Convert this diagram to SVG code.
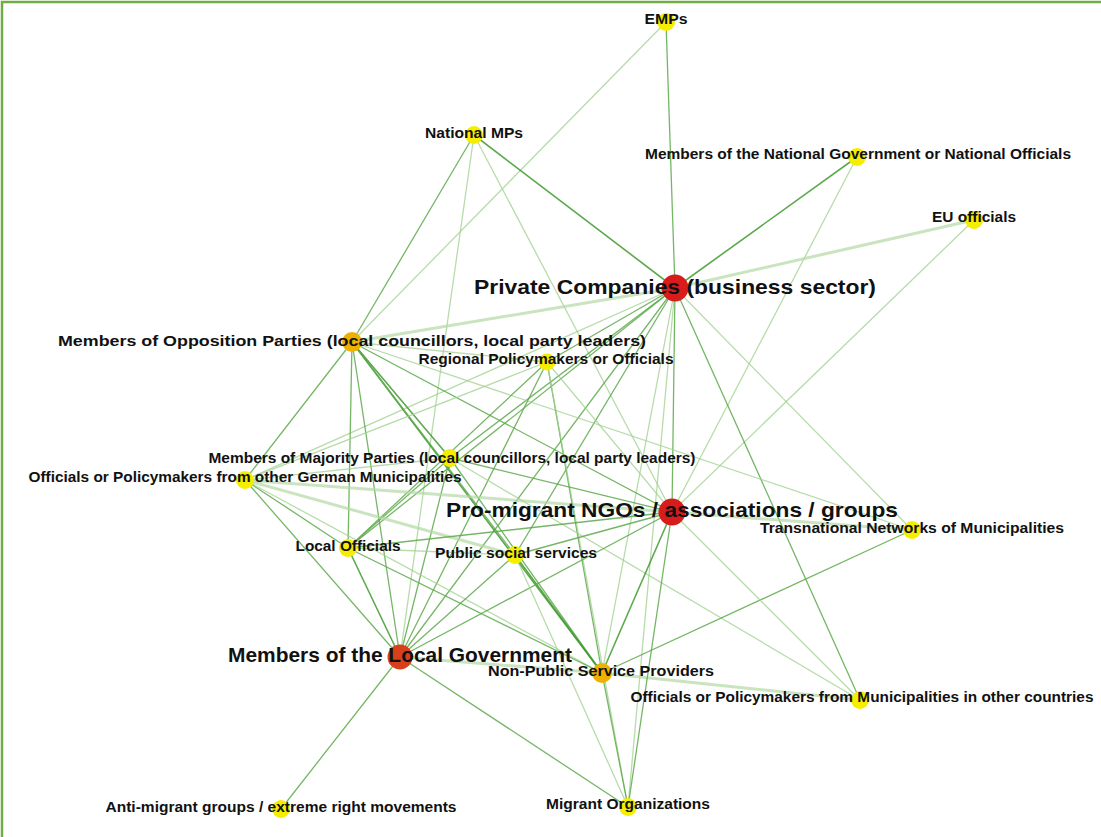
<svg xmlns="http://www.w3.org/2000/svg" width="1101" height="837" viewBox="0 0 1101 837">
<style>
.bg{fill:#ffffff}
.frame{stroke:#70ad47;stroke-width:2.5;fill:none}
.e{fill:none;stroke-linecap:round}
.d{stroke:#3f9a2e;stroke-width:1.6;stroke-opacity:0.85}
.m{stroke:#5da94b;stroke-width:1.3;stroke-opacity:0.85}
.l{stroke:#9fd08e;stroke-width:1.3;stroke-opacity:0.75}
.t{stroke:#b2d9a3;stroke-width:3;stroke-opacity:0.7}
.y{fill:#f5ee00}
.o{fill:#efb100}
.r{fill:#d81c1c}
.lg{fill:#d8401c}
text{font-family:"Liberation Sans",Arial,sans-serif;font-weight:bold;fill:#111;text-anchor:middle;dominant-baseline:central}
.s{font-size:14px}
.b{font-size:20.5px}
.bm{font-size:15.5px}
</style>
<rect class="bg" x="0" y="0" width="1101" height="837"/>
<path class="frame" d="M2,837 V2 H1101"/>
<g id="connectors">
<line class="e m" x1="666" y1="22" x2="675" y2="288"/>
<line class="e l" x1="666" y1="22" x2="352" y2="342"/>
<line class="e d" x1="474" y1="135" x2="675" y2="288"/>
<line class="e m" x1="474" y1="135" x2="352" y2="342"/>
<line class="e l" x1="474" y1="135" x2="400" y2="657"/>
<line class="e l" x1="474" y1="135" x2="672" y2="512"/>
<line class="e d" x1="857" y1="157" x2="675" y2="288"/>
<line class="e l" x1="857" y1="157" x2="672" y2="512"/>
<line class="e t" x1="974" y1="220" x2="675" y2="288"/>
<line class="e l" x1="974" y1="220" x2="672" y2="512"/>
<line class="e t" x1="675" y1="288" x2="352" y2="342"/>
<line class="e m" x1="675" y1="288" x2="547" y2="362"/>
<line class="e m" x1="675" y1="288" x2="450" y2="458"/>
<line class="e l" x1="675" y1="288" x2="245" y2="480"/>
<line class="e m" x1="675" y1="288" x2="348" y2="548"/>
<line class="e m" x1="675" y1="288" x2="515" y2="555"/>
<line class="e m" x1="675" y1="288" x2="400" y2="657"/>
<line class="e m" x1="675" y1="288" x2="672" y2="512"/>
<line class="e l" x1="675" y1="288" x2="602" y2="673"/>
<line class="e l" x1="675" y1="288" x2="628" y2="807"/>
<line class="e l" x1="675" y1="288" x2="912" y2="530"/>
<line class="e m" x1="675" y1="288" x2="860" y2="700"/>
<line class="e l" x1="352" y1="342" x2="547" y2="362"/>
<line class="e d" x1="352" y1="342" x2="450" y2="458"/>
<line class="e d" x1="352" y1="342" x2="602" y2="673"/>
<line class="e m" x1="352" y1="342" x2="515" y2="555"/>
<line class="e m" x1="352" y1="342" x2="245" y2="480"/>
<line class="e m" x1="352" y1="342" x2="348" y2="548"/>
<line class="e m" x1="352" y1="342" x2="400" y2="657"/>
<line class="e m" x1="352" y1="342" x2="672" y2="512"/>
<line class="e l" x1="352" y1="342" x2="912" y2="530"/>
<line class="e l" x1="547" y1="362" x2="245" y2="480"/>
<line class="e m" x1="547" y1="362" x2="348" y2="548"/>
<line class="e m" x1="547" y1="362" x2="400" y2="657"/>
<line class="e m" x1="547" y1="362" x2="602" y2="673"/>
<line class="e l" x1="547" y1="362" x2="672" y2="512"/>
<line class="e l" x1="547" y1="362" x2="628" y2="807"/>
<line class="e m" x1="450" y1="458" x2="672" y2="512"/>
<line class="e m" x1="450" y1="458" x2="348" y2="548"/>
<line class="e m" x1="450" y1="458" x2="400" y2="657"/>
<line class="e m" x1="450" y1="458" x2="602" y2="673"/>
<line class="e l" x1="450" y1="458" x2="245" y2="480"/>
<line class="e l" x1="450" y1="458" x2="860" y2="700"/>
<line class="e t" x1="245" y1="480" x2="672" y2="512"/>
<line class="e m" x1="245" y1="480" x2="348" y2="548"/>
<line class="e m" x1="245" y1="480" x2="400" y2="657"/>
<line class="e l" x1="245" y1="480" x2="602" y2="673"/>
<line class="e t" x1="245" y1="480" x2="515" y2="555"/>
<line class="e m" x1="348" y1="548" x2="672" y2="512"/>
<line class="e l" x1="348" y1="548" x2="515" y2="555"/>
<line class="e d" x1="348" y1="548" x2="400" y2="657"/>
<line class="e m" x1="348" y1="548" x2="602" y2="673"/>
<line class="e m" x1="515" y1="555" x2="672" y2="512"/>
<line class="e m" x1="515" y1="555" x2="400" y2="657"/>
<line class="e d" x1="515" y1="555" x2="602" y2="673"/>
<line class="e m" x1="400" y1="657" x2="672" y2="512"/>
<line class="e t" x1="400" y1="657" x2="602" y2="673"/>
<line class="e m" x1="400" y1="657" x2="281" y2="809"/>
<line class="e m" x1="400" y1="657" x2="628" y2="807"/>
<line class="e d" x1="602" y1="673" x2="672" y2="512"/>
<line class="e m" x1="602" y1="673" x2="912" y2="530"/>
<line class="e t" x1="602" y1="673" x2="860" y2="700"/>
<line class="e m" x1="602" y1="673" x2="628" y2="807"/>
<line class="e m" x1="672" y1="512" x2="628" y2="807"/>
<line class="e l" x1="672" y1="512" x2="860" y2="700"/>
<line class="e t" x1="672" y1="512" x2="912" y2="530"/>
<line class="e l" x1="515" y1="555" x2="628" y2="807"/>
</g>
<g id="n-emps"><circle class="y" cx="666" cy="22" r="9"/><text class="s" x="666" y="19" textLength="43" lengthAdjust="spacingAndGlyphs">EMPs</text></g>
<g id="n-national-mps"><circle class="y" cx="474" cy="135" r="9"/><text class="s" x="474" y="133" textLength="98" lengthAdjust="spacingAndGlyphs">National MPs</text></g>
<g id="n-national-gov"><circle class="y" cx="857" cy="157" r="9"/><text class="s" x="858" y="154" textLength="426" lengthAdjust="spacingAndGlyphs">Members of the National Government or National Officials</text></g>
<g id="n-eu"><circle class="y" cx="974" cy="220" r="9"/><text class="s" x="974" y="217" textLength="84" lengthAdjust="spacingAndGlyphs">EU officials</text></g>
<g id="n-private"><circle class="r" cx="675" cy="288" r="13.5"/><text class="b" x="675" y="286" textLength="402" lengthAdjust="spacingAndGlyphs">Private Companies (business sector)</text></g>
<g id="n-opposition"><circle class="o" cx="352" cy="342" r="10"/><text class="bm" x="352" y="340" textLength="588" lengthAdjust="spacingAndGlyphs">Members of Opposition Parties (local councillors, local party leaders)</text></g>
<g id="n-regional"><circle class="y" cx="547" cy="362" r="8.5"/><text class="s" x="546" y="359" textLength="255" lengthAdjust="spacingAndGlyphs">Regional Policymakers or Officials</text></g>
<g id="n-majority"><circle class="y" cx="450" cy="458" r="9"/><text class="s" x="452" y="458" textLength="487" lengthAdjust="spacingAndGlyphs">Members of Majority Parties (local councillors, local party leaders)</text></g>
<g id="n-german-muni"><circle class="y" cx="245" cy="480" r="9"/><text class="s" x="245" y="477" textLength="433" lengthAdjust="spacingAndGlyphs">Officials or Policymakers from other German Municipalities</text></g>
<g id="n-ngos"><circle class="r" cx="672" cy="512" r="13.5"/><text class="b" x="672" y="509" textLength="452" lengthAdjust="spacingAndGlyphs">Pro-migrant NGOs / associations / groups</text></g>
<g id="n-transnational"><circle class="y" cx="912" cy="530" r="9"/><text class="s" x="912" y="528" textLength="304" lengthAdjust="spacingAndGlyphs">Transnational Networks of Municipalities</text></g>
<g id="n-local-officials"><circle class="y" cx="348" cy="548" r="9"/><text class="s" x="348" y="546" textLength="105" lengthAdjust="spacingAndGlyphs">Local Officials</text></g>
<g id="n-public-social"><circle class="y" cx="515" cy="555" r="9"/><text class="s" x="516" y="553" textLength="162" lengthAdjust="spacingAndGlyphs">Public social services</text></g>
<g id="n-local-gov"><circle class="lg" cx="400" cy="657" r="12.5"/><text class="b" x="400" y="654" textLength="344" lengthAdjust="spacingAndGlyphs">Members of the Local Government</text></g>
<g id="n-nonpublic"><circle class="o" cx="602" cy="673" r="10"/><text class="s" x="601" y="671" textLength="226" lengthAdjust="spacingAndGlyphs">Non-Public Service Providers</text></g>
<g id="n-other-countries"><circle class="y" cx="860" cy="700" r="9"/><text class="s" x="862" y="697" textLength="463" lengthAdjust="spacingAndGlyphs">Officials or Policymakers from Municipalities in other countries</text></g>
<g id="n-anti-migrant"><circle class="y" cx="281" cy="809" r="9"/><text class="s" x="281" y="807" textLength="351" lengthAdjust="spacingAndGlyphs">Anti-migrant groups / extreme right movements</text></g>
<g id="n-migrant-org"><circle class="y" cx="628" cy="807" r="9"/><text class="s" x="628" y="804" textLength="164" lengthAdjust="spacingAndGlyphs">Migrant Organizations</text></g>
</svg>
